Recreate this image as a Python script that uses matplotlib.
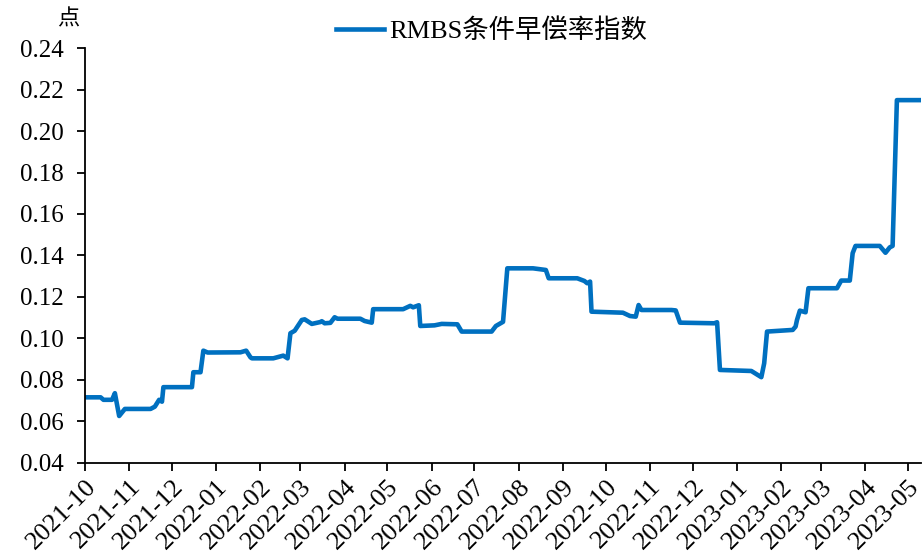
import numpy as np
import pandas as pd
import matplotlib
matplotlib.use('Agg')
import matplotlib.pyplot as plt
import matplotlib.dates as mdates

plt.rcParams['font.family'] = ['Liberation Serif', 'Noto Sans CJK SC']

dates = ['2021-10-01', '2021-10-12', '2021-10-14', '2021-10-20', '2021-10-22', '2021-10-25',
         '2021-10-29', '2021-11-16', '2021-11-19', '2021-11-22', '2021-11-24', '2021-11-25',
         '2021-12-15', '2021-12-16', '2021-12-21', '2021-12-23', '2021-12-26', '2022-01-18',
         '2022-01-22', '2022-01-25', '2022-01-26', '2022-02-10', '2022-02-17', '2022-02-20',
         '2022-02-22', '2022-02-25', '2022-03-02', '2022-03-04', '2022-03-09', '2022-03-15',
         '2022-03-16', '2022-03-18', '2022-03-22', '2022-03-25', '2022-03-27', '2022-04-12',
         '2022-04-15', '2022-04-20', '2022-04-21', '2022-05-12', '2022-05-17', '2022-05-19',
         '2022-05-23', '2022-05-24', '2022-06-03', '2022-06-08', '2022-06-19', '2022-06-22',
         '2022-07-13', '2022-07-16', '2022-07-21', '2022-07-24', '2022-08-11', '2022-08-20',
         '2022-08-22', '2022-09-11', '2022-09-16', '2022-09-18', '2022-09-20', '2022-09-21',
         '2022-10-13', '2022-10-18', '2022-10-22', '2022-10-24', '2022-10-26', '2022-11-16',
         '2022-11-19', '2022-11-22', '2022-12-16', '2022-12-18', '2022-12-20', '2023-01-11',
         '2023-01-18', '2023-01-20', '2023-01-22', '2023-02-09', '2023-02-11', '2023-02-12',
         '2023-02-14', '2023-02-18', '2023-02-20', '2023-03-12', '2023-03-15', '2023-03-21',
         '2023-03-23', '2023-03-25', '2023-04-11', '2023-04-15', '2023-04-18', '2023-04-20',
         '2023-04-23', '2023-05-10']

cpr = [0.0716, 0.0716, 0.0704, 0.0704, 0.0736, 0.0626,
       0.0660, 0.0660, 0.0671, 0.0704, 0.0695, 0.0765,
       0.0765, 0.0837, 0.0837, 0.0941, 0.0932, 0.0933,
       0.0941, 0.0909, 0.0904, 0.0904, 0.0917, 0.0904,
       0.1025, 0.1037, 0.1089, 0.1092, 0.1070, 0.1079,
       0.1083, 0.1073, 0.1075, 0.1102, 0.1095, 0.1095,
       0.1084, 0.1076, 0.1141, 0.1141, 0.1157, 0.1150,
       0.1160, 0.1060, 0.1063, 0.1070, 0.1068, 0.1033,
       0.1033, 0.1060, 0.1080, 0.1338, 0.1338, 0.1330,
       0.1290, 0.1290, 0.1277, 0.1266, 0.1274, 0.1129,
       0.1124, 0.1108, 0.1105, 0.1161, 0.1137, 0.1137,
       0.1135, 0.1076, 0.1073, 0.1078, 0.0848, 0.0843,
       0.0813, 0.0880, 0.1033, 0.1041, 0.1057, 0.1089,
       0.1134, 0.1126, 0.1242, 0.1242, 0.1279, 0.1279,
       0.1411, 0.1446, 0.1446, 0.1413, 0.1439, 0.1446,
       0.2149, 0.2149]

x = pd.to_datetime(dates)

fig = plt.figure(figsize=(9.23, 5.59), dpi=100)
ax = fig.add_axes([0.092, 0.172, 0.906, 0.742])

ax.plot(x, cpr, color='#0070C0', lw=3.3, label='RMBS条件早偿率指数', solid_joinstyle='round')

ax.set_ylim(0.04, 0.24)
ax.set_yticks(np.arange(0.04, 0.2401, 0.02))
ax.yaxis.set_major_formatter(plt.FormatStrFormatter('%.2f'))
ax.set_xlim(pd.Timestamp('2021-10-01'), pd.Timestamp('2023-05-10'))
ax.xaxis.set_major_locator(mdates.MonthLocator())
ax.xaxis.set_major_formatter(mdates.DateFormatter('%Y-%m'))

ax.tick_params(axis='both', width=1.3, length=6, direction='out')
ax.tick_params(axis='y', labelsize=18, pad=9)
ax.tick_params(axis='x', labelsize=19, pad=3)

for lab in ax.get_xticklabels():
    lab.set_rotation(45)
    lab.set_ha('right')
    lab.set_rotation_mode('anchor')

ax.spines['top'].set_visible(False)
ax.spines['right'].set_visible(False)
ax.spines['left'].set_linewidth(1.3)
ax.spines['bottom'].set_linewidth(1.3)

fig.text(0.074, 0.963, '点', fontsize=16, ha='center', va='center')
ax.legend(loc='upper center', bbox_to_anchor=(0.486, 1.128), frameon=False, fontsize=19,
          handlelength=1.8, handletextpad=0.2)

plt.savefig('out.png', dpi=100)
